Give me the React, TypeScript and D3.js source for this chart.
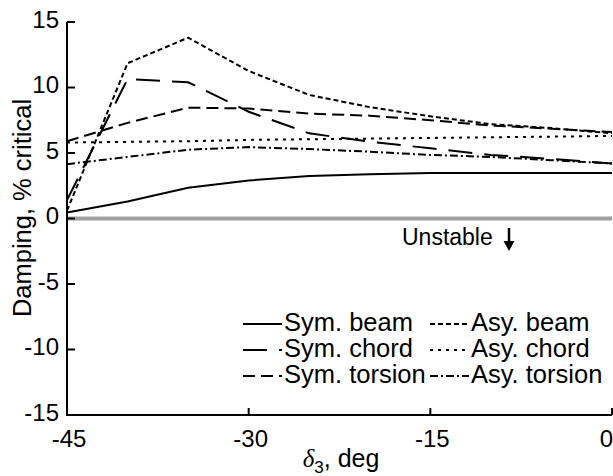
import React from "react";
import * as d3 from "d3";

const deltas = [-45, -40, -35, -30, -25, -20, -15, -10, -5, 0];
const symBeam = [0.45, 1.3, 2.35, 2.9, 3.25, 3.38, 3.47, 3.47, 3.47, 3.47];
const symChord = [1.4, 10.65, 10.4, 8.15, 6.5, 5.86, 5.36, 4.85, 4.55, 4.2];
const symTorsion = [5.9, 7.3, 8.46, 8.4, 8.0, 7.85, 7.5, 7.1, 6.85, 6.6];
const asyBeam = [0.6, 11.85, 13.8, 11.26, 9.43, 8.5, 7.8, 7.2, 6.9, 6.5];
const asyChord = [5.8, 5.85, 5.9, 6.0, 6.05, 6.1, 6.15, 6.2, 6.25, 6.3];
const asyTorsion = [4.15, 4.7, 5.25, 5.45, 5.3, 5.1, 4.85, 4.7, 4.45, 4.2];

const xTicks = [-45, -30, -15, 0];
const yTicks = [-15, -10, -5, 0, 5, 10, 15];

const seriesNames = ["Sym. beam", "Sym. chord", "Sym. torsion", "Asy. beam", "Asy. chord", "Asy. torsion"];
const seriesValues = [symBeam, symChord, symTorsion, asyBeam, asyChord, asyTorsion];
const dashes = ["none", "24,12", "12,6", "5,3", "3,5", "8,3,2,3"];

const W = 613;
const H = 476;
const font = "'Liberation Sans', Arial, Helvetica, sans-serif";

export default function App() {
  const x = d3.scaleLinear().domain([-45, 0]).range([67, 612]);
  const y = d3.scaleLinear().domain([-15, 15]).range([415, 22]);
  const line = d3
    .line<number>()
    .x((_, i) => x(deltas[i]))
    .y((d) => y(d));

  const legendX = [243, 430];
  const legendY = [331, 357, 383];

  return (
    <svg width={W} height={H} style={{ position: "absolute", left: 0, top: 0, background: "#fff" }} fontFamily={font}>
      <rect width={W} height={H} fill="#fff" />
      {/* zero line */}
      <line x1={x(-45)} x2={x(0)} y1={y(0)} y2={y(0)} stroke="#a0a0a0" strokeWidth={4} />
      {/* series */}
      {seriesValues.map((vals, k) => (
        <path
          key={k}
          d={line(vals) || ""}
          fill="none"
          stroke="#000"
          strokeWidth={2}
          strokeDasharray={dashes[k]}
        />
      ))}
      {/* axes */}
      <line x1={x(-45)} x2={x(-45)} y1={y(15)} y2={y(-15) + 1} stroke="#000" strokeWidth={2} />
      <line x1={x(-45) - 1} x2={x(0)} y1={y(-15)} y2={y(-15)} stroke="#000" strokeWidth={2} />
      {yTicks.map((t) => (
        <g key={"y" + t}>
          {t > -15 && (
            <line x1={x(-45)} x2={x(-45) + 8} y1={y(t)} y2={y(t)} stroke="#000" strokeWidth={2} />
          )}
          <text x={59} y={y(t) - 3} dy="0.36em" textAnchor="end" fontSize={24}>
            {t}
          </text>
        </g>
      ))}
      {xTicks.map((t) => (
        <g key={"x" + t}>
          {t > -45 && (
            <line x1={x(t)} x2={x(t)} y1={y(-15)} y2={y(-15) - 7} stroke="#000" strokeWidth={2} />
          )}
          <text
            x={t === 0 ? x(t) + 1 : x(t) + 2}
            y={447}
            textAnchor={t === 0 ? "end" : "middle"}
            fontSize={24}
          >
            {t}
          </text>
        </g>
      ))}
      {/* axis labels */}
      <text transform={`translate(31,208) rotate(-90)`} textAnchor="middle" fontSize={25.5}>
        Damping, % critical
      </text>
      <text x={341} y={467} textAnchor="middle" fontSize={25}>
        <tspan fontStyle="italic" fontFamily="'Liberation Serif', 'Times New Roman', serif">δ</tspan>
        <tspan fontSize={17} dy={6}>3</tspan>
        <tspan dy={-6}>, deg</tspan>
      </text>
      {/* unstable annotation */}
      <text x={402} y={245} textAnchor="start" fontSize={23}>
        Unstable
      </text>
      <line x1={509} x2={509} y1={228} y2={244} stroke="#000" strokeWidth={2.5} />
      <path d="M503.5,241 L509,251 L514.5,241 Z" fill="#000" />
      {/* legend */}
      {seriesNames.map((name, k) => {
        const col = Math.floor(k / 3);
        const row = k % 3;
        const lx = legendX[col];
        const ly = legendY[row];
        return (
          <g key={name}>
            <line
              x1={lx}
              x2={lx + 39}
              y1={ly - 7}
              y2={ly - 7}
              stroke="#000"
              strokeWidth={2}
              strokeDasharray={dashes[k]}
            />
            <text x={lx + 41} y={ly} fontSize={25.5}>
              {name}
            </text>
          </g>
        );
      })}
    </svg>
  );
}
